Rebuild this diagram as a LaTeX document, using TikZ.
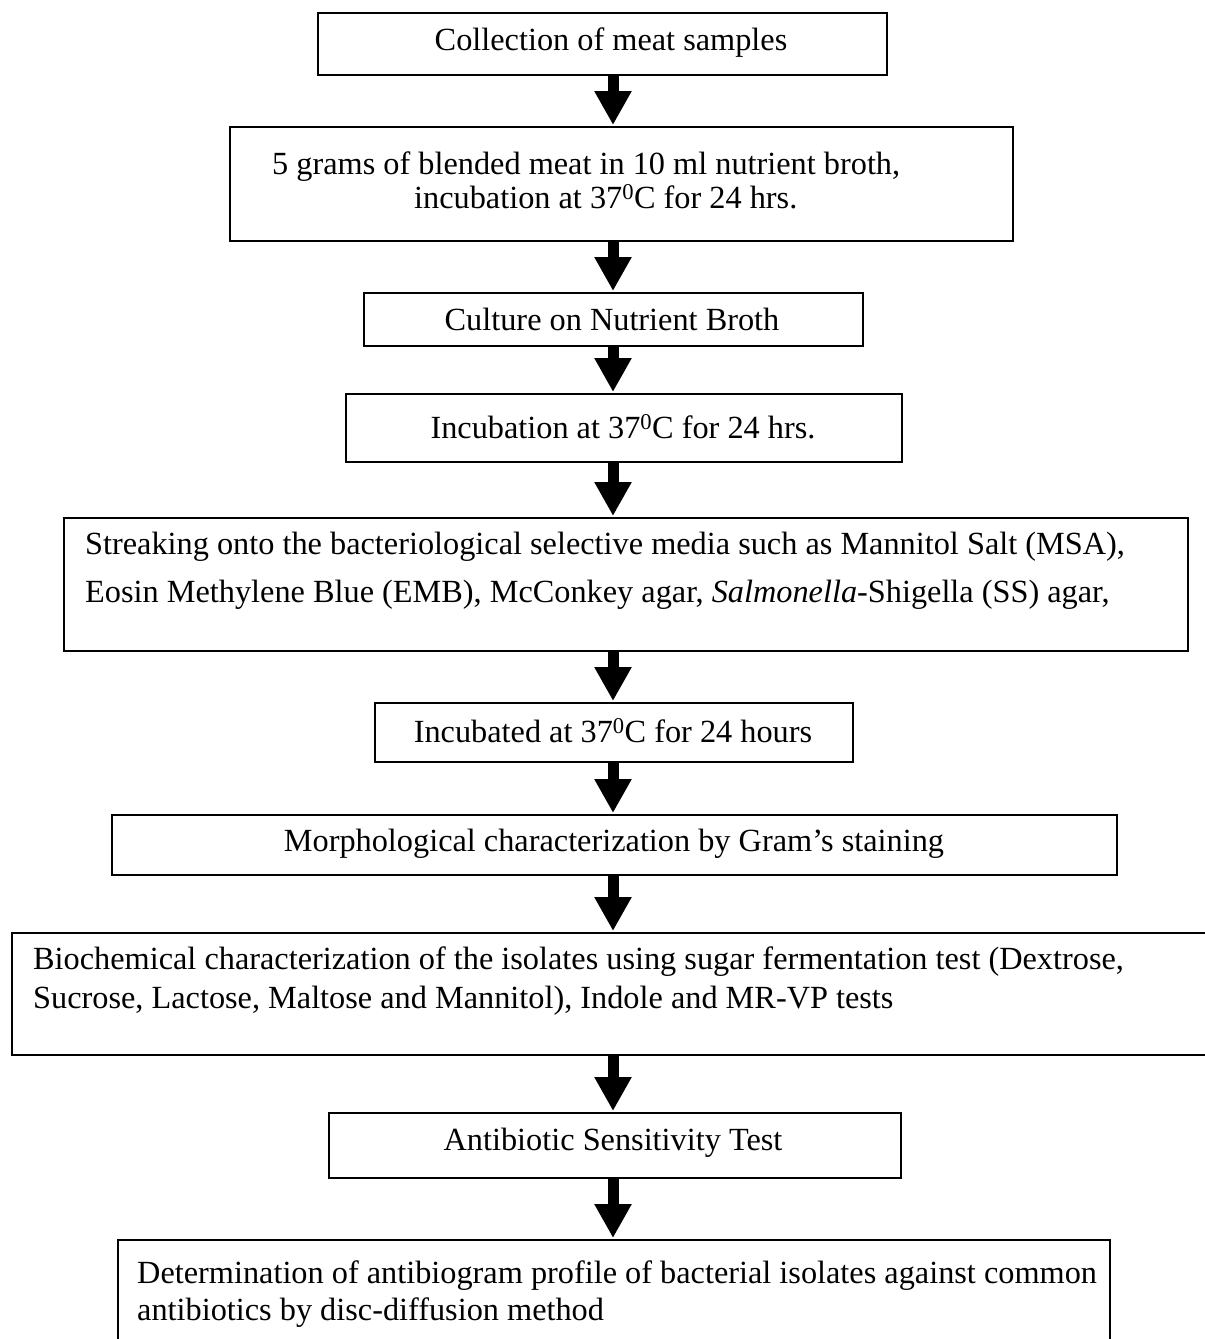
\documentclass[tikz,border=0pt]{standalone}
\usepackage{fontspec}
\setmainfont{Liberation Serif}
\usetikzlibrary{arrows.meta}
\tikzset{
  frame/.style={draw=black, line width=1.7pt, inner sep=0pt, anchor=north west},
  txt/.style={inner sep=0pt, font=\fontsize{32.3}{38}\selectfont},
  flow/.style={line width=11pt, -{Triangle[width=35pt,length=34pt]}, shorten >=1pt}
}
\newcommand{\boxat}[5]{% name x1 x2 y1 y2
  \node[frame, minimum width={#3-#2}, minimum height={#5-#4}] (#1) at (#2,#4) {};}
\begin{document}
\begin{tikzpicture}[x=1pt,y=-1pt]
\useasboundingbox (0,0) rectangle (1205,1339);
\coordinate (ax) at (613,0);
\boxat{b1}{317}{886}{12}{74}
\boxat{b2}{229}{1012}{126}{240}
\boxat{b3}{363}{862}{292}{345}
\boxat{b4}{345}{901}{393}{461}
\boxat{b5}{63}{1187}{517}{650}
\boxat{b6}{374}{852}{702}{761}
\boxat{b7}{111}{1116}{814}{874}
\boxat{b8}{11}{1230}{932}{1054}
\boxat{b9}{328}{900}{1112}{1177}
\boxat{b10}{117}{1109}{1239}{1352}

\node[txt] (t1) at (611,43) {Collection of meat samples};
\node[txt, align=left, anchor=west, font=\fontsize{32.3}{34}\selectfont] (t2) at (272,180) {5 grams of blended meat in 10 ml nutrient broth,\\\hspace*{142pt}incubation at 37\textsuperscript{0}C for 24 hrs.};
\node[txt] (t3) at (612,319) {Culture on Nutrient Broth};
\node[txt] (t4) at (623,427) {Incubation at 37\textsuperscript{0}C for 24 hrs.};
\node[txt, align=left, anchor=west, font=\fontsize{32.3}{48}\selectfont] (t5) at (85,571) {Streaking onto the bacteriological selective media such as Mannitol Salt (MSA),\\Eosin Methylene Blue (EMB), McConkey agar, \textit{Salmonella}-Shigella (SS) agar,};
\node[txt] (t6) at (613,731) {Incubated at 37\textsuperscript{0}C for 24 hours};
\node[txt] (t7) at (614,844) {Morphological characterization by Gram’s staining};
\node[txt, align=left, anchor=west, font=\fontsize{32.3}{39}\selectfont] (t8) at (33,981) {Biochemical characterization of the isolates using sugar fermentation test (Dextrose,\\Sucrose, Lactose, Maltose and Mannitol), Indole and MR-VP tests};
\node[txt] (t9) at (613,1143) {Antibiotic Sensitivity Test};
\node[txt, align=left, anchor=west, font=\fontsize{32.3}{37}\selectfont] (t10) at (137,1294) {Determination of antibiogram profile of bacterial isolates against common\\antibiotics by disc-diffusion method};

\foreach \a/\b in {b1/b2,b2/b3,b3/b4,b4/b5,b5/b6,b6/b7,b7/b8,b8/b9,b9/b10}
  \draw[flow] (\a.south -| ax) -- (\b.north -| ax);
\end{tikzpicture}
\end{document}
